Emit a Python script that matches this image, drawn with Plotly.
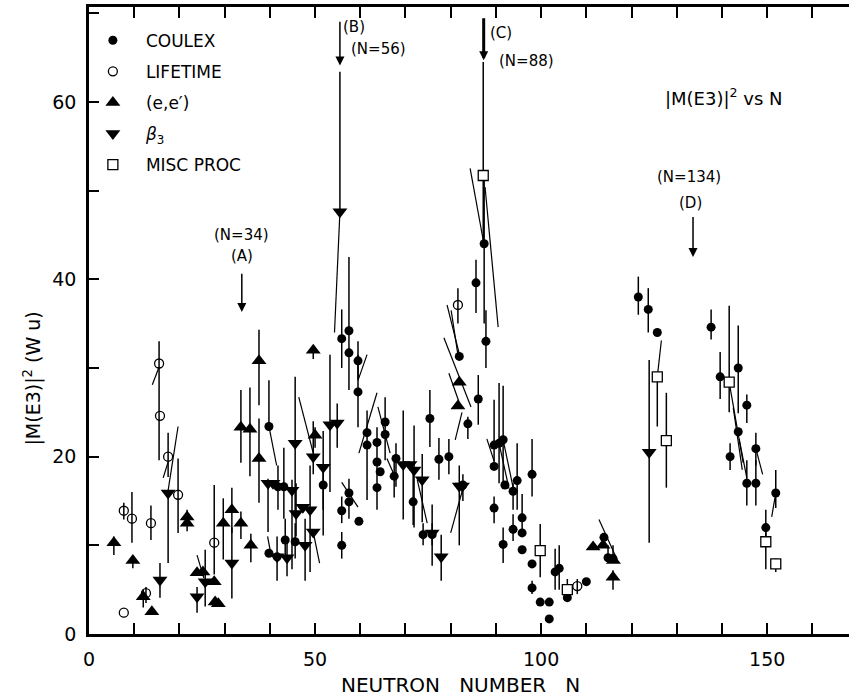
import plotly.graph_objects as go

# ---------------- data ----------------
# COULEX (filled circles)
coulex_n = [39.8, 41.8, 43.1, 39.8, 41.6, 43.4, 45.6, 51.8, 55.9, 57.5, 57.5, 59.5, 59.5, 55.9, 55.9,
            57.5, 57.5, 59.7, 61.5, 61.5, 63.7, 63.7, 63.7, 64.4, 65.5, 65.5, 67.9, 67.5, 71.7, 73.9,
            75.9, 75.4, 77.4, 79.6, 81.9, 83.8, 85.6, 87.8, 86.1, 87.4, 82.7, 89.6, 90.7, 91.6, 89.6,
            92.0, 94.7, 93.8, 89.6, 95.8, 98.0, 91.6, 93.8, 95.8, 95.8, 98.0, 98.0, 99.8, 101.8, 101.8,
            103.1, 104.0, 105.8, 110.0, 113.9, 114.8, 115.9, 121.5, 123.7, 125.7, 137.6, 139.6, 143.6,
            145.5, 143.6, 141.8, 147.5, 145.5, 147.5, 151.9, 149.7]
coulex_v = [23.4, 16.6, 16.6, 9.1, 8.7, 10.6, 10.4, 16.8, 33.3, 34.2, 31.7, 30.8, 27.3, 13.9, 10.0,
            15.9, 14.9, 12.7, 22.7, 21.3, 21.6, 19.4, 16.5, 18.3, 23.9, 22.5, 19.8, 17.8, 14.9, 11.2,
            11.2, 24.3, 19.7, 20.0, 31.3, 23.7, 39.6, 33.0, 26.5, 44.0, 16.8, 21.3, 21.5, 21.9, 18.9,
            16.8, 17.3, 16.1, 14.2, 13.1, 18.0, 10.1, 11.8, 11.4, 9.5, 7.9, 5.2, 3.6, 3.6, 1.7,
            7.0, 7.4, 4.1, 5.9, 10.9, 8.6, 8.5, 38.0, 36.6, 34.0, 34.6, 29.0, 30.0,
            25.8, 22.8, 20.0, 20.9, 17.0, 17.0, 15.9, 12.0]
coulex_hi = [28.6, 19.0, 21.0, 9.1, 11.0, 13.0, 12.5, 19.0, 36.6, 42.5, 31.7, 33.0, 31.5, 15.5, 11.5,
             17.5, 14.9, 12.7, 25.2, 21.3, 23.3, 19.4, 16.5, 18.3, 26.7, 22.5, 21.5, 19.6, 18.5, 12.5,
             12.5, 27.5, 22.1, 22.0, 31.3, 24.5, 42.2, 36.5, 29.2, 51.7, 18.0, 26.4, 28.3, 28.0, 18.9,
             16.8, 21.5, 17.0, 15.5, 15.8, 22.0, 12.0, 13.5, 11.4, 9.5, 7.9, 6.0, 3.6, 3.6, 1.7,
             9.6, 10.0, 4.1, 5.9, 10.9, 10.0, 10.0, 40.3, 39.0, 34.0, 36.6, 31.8, 34.8,
             27.0, 22.8, 21.5, 22.7, 19.6, 19.6, 18.5, 14.0]
coulex_lo = [23.4, 14.0, 13.0, 9.1, 6.0, 8.5, 8.5, 14.0, 30.0, 27.5, 31.7, 28.7, 23.3, 12.5, 8.5,
             15.9, 13.0, 12.7, 15.1, 21.3, 14.0, 19.4, 16.5, 18.3, 19.6, 22.5, 16.6, 15.4, 12.3, 10.0,
             10.0, 21.1, 17.4, 18.0, 31.3, 22.0, 36.2, 30.0, 23.6, 35.0, 15.0, 19.3, 17.0, 17.0, 18.9,
             16.8, 14.0, 14.0, 12.5, 11.0, 15.5, 8.0, 10.5, 11.4, 9.5, 7.9, 4.5, 3.6, 3.6, 1.7,
             5.0, 5.0, 4.1, 5.9, 10.9, 8.6, 8.5, 36.0, 34.0, 34.0, 33.2, 26.5, 24.9,
             23.8, 22.8, 18.5, 19.0, 14.5, 14.5, 14.2, 10.0]

# LIFETIME (open circles)
life_n = [7.7, 7.7, 9.5, 12.6, 13.7, 15.5, 15.7, 17.5, 19.7, 27.7, 81.6, 108.0]
life_v = [2.4, 13.9, 13.0, 4.6, 12.5, 30.5, 24.6, 20.0, 15.7, 10.3, 37.1, 5.4]
life_hi = [2.4, 14.8, 16.0, 5.3, 14.5, 33.0, 24.6, 22.7, 19.8, 16.8, 39.0, 6.2]
life_lo = [2.4, 12.9, 10.3, 3.5, 10.6, 19.6, 24.6, 17.7, 11.4, 6.7, 35.0, 4.5]

# (e,e') (up triangles)
ee_n = [5.5, 9.7, 12.0, 13.9, 21.7, 21.7, 23.9, 25.2, 27.7, 27.9, 28.6, 29.7, 31.6, 33.6, 35.8,
        33.6, 35.6, 37.6, 37.6, 49.6, 50.0, 81.9, 81.6, 111.5, 113.7, 116.0, 115.9]
ee_v = [10.3, 8.3, 4.2, 2.5, 13.2, 12.5, 6.9, 7.0, 5.9, 3.6, 3.4, 12.5, 14.0, 12.5, 10.0,
        23.3, 23.1, 30.8, 19.8, 32.0, 22.4, 28.4, 25.7, 9.8, 10.0, 8.3, 6.4]
ee_hi = [11.0, 8.3, 5.0, 2.5, 14.0, 12.5, 6.9, 7.0, 5.9, 3.6, 3.4, 15.3, 16.5, 13.8, 11.3,
         27.5, 27.8, 34.3, 24.3, 32.5, 23.3, 28.4, 25.7, 9.8, 10.0, 8.3, 7.2]
ee_lo = [8.9, 7.4, 3.0, 2.5, 13.2, 11.6, 6.9, 7.0, 5.9, 3.6, 3.4, 8.4, 11.4, 10.7, 8.1,
         19.3, 17.8, 25.8, 14.8, 31.0, 21.0, 28.4, 25.7, 9.8, 10.0, 8.3, 5.0]

# beta_3 (down triangles)
b3_n = [17.5, 15.7, 23.9, 25.7, 31.6, 39.6, 40.7, 44.9, 45.6, 45.8, 41.6, 43.8, 47.8, 47.3, 48.9,
        49.6, 49.6, 51.8, 53.3, 54.9, 55.5, 69.5, 71.0, 71.9, 73.7, 75.9, 77.9, 81.9, 82.6, 123.9]
b3_v = [15.9, 6.1, 4.2, 5.9, 8.0, 17.0, 17.0, 16.2, 21.5, 13.6, 8.7, 8.6, 10.0, 14.3, 14.0,
        20.0, 11.5, 18.8, 23.6, 23.8, 47.6, 19.1, 19.1, 18.5, 17.4, 11.4, 8.7, 16.7, 16.7, 20.5]
b3_hi = [15.9, 8.0, 5.3, 9.5, 12.0, 17.5, 17.0, 17.4, 29.0, 17.0, 8.7, 10.5, 13.0, 14.3, 19.0,
         24.0, 11.5, 22.9, 31.5, 26.0, 63.4, 25.2, 19.1, 23.5, 20.3, 14.6, 11.2, 19.0, 16.7, 30.9]
b3_lo = [8.0, 4.1, 2.4, 3.1, 4.0, 11.5, 17.0, 7.3, 13.6, 11.0, 8.7, 6.5, 6.0, 14.3, 7.0,
         18.0, 11.5, 11.1, 16.0, 21.0, 47.6, 12.9, 19.1, 12.0, 12.6, 7.7, 6.0, 10.0, 16.7, 10.3]

# MISC PROC (open squares)
misc_n = [87.2, 99.8, 105.8, 125.7, 127.7, 141.6, 149.7, 151.9]
misc_v = [51.7, 9.4, 5.0, 29.0, 21.8, 28.4, 10.4, 7.9]
misc_hi = [64.5, 12.4, 6.2, 29.0, 27.2, 37.0, 12.0, 8.5]
misc_lo = [44.0, 6.4, 3.8, 23.4, 16.5, 25.0, 7.3, 7.0]

# slanted error bars: (N0, V0) -> (N1, V1)
slant_n0 = [39.8, 39.5, 14.0, 16.4, 19.7, 23.9, 46.4, 49.6, 55.9, 59.5, 59.7, 63.9, 65.9, 72.6, 80.0,
            79.2, 78.5, 79.6, 82.5, 84.3, 87.6, 88.0, 90.7, 91.6, 112.8, 125.7, 141.6, 142.5, 143.8,
            147.5, 151.9, 54.3, 80.1]
slant_v0 = [23.4, 11.0, 28.1, 17.6, 23.4, 8.9, 26.7, 11.5, 17.1, 28.6, 20.4, 25.6, 19.8, 17.4, 11.4,
            37.1, 33.4, 29.4, 25.0, 52.5, 50.4, 22.0, 21.5, 21.9, 12.9, 29.0, 28.4, 25.5, 22.0,
            20.9, 15.9, 34.0, 36.5]
slant_n1 = [41.5, 40.2, 15.5, 17.5, 17.5, 25.4, 49.6, 51.0, 59.5, 61.5, 63.7, 66.6, 67.7, 74.8, 82.8,
            82.1, 84.5, 82.1, 81.0, 87.2, 90.5, 89.6, 92.9, 94.1, 116.8, 126.6, 144.7, 144.5, 145.5,
            149.0, 151.0, 55.5, 81.6]
slant_v1 = [19.0, 9.1, 30.1, 19.4, 16.2, 6.3, 20.4, 8.0, 14.3, 31.5, 27.2, 20.4, 17.7, 12.5, 16.6,
            31.2, 25.6, 25.8, 21.9, 44.4, 34.6, 19.5, 16.4, 15.8, 8.4, 33.1, 19.3, 18.5, 17.6,
            18.0, 13.2, 47.6, 31.5]

x_ticks = list(range(0, 170, 10))
x_labels = ["0", "", "", "", "", "50", "", "", "", "", "100", "", "", "", "", "150", ""]
y_ticks = list(range(0, 80, 10))
y_labels = ["0", "", "20", "", "40", "", "60", ""]

FONT = "DejaVu Sans"
BLACK = "black"


def err(v, hi, lo):
    return ([h - a for a, h in zip(v, hi)], [a - l for a, l in zip(v, lo)])


fig = go.Figure()

# slanted bars
sx, sy = [], []
for a, b, c, d in zip(slant_n0, slant_v0, slant_n1, slant_v1):
    sx += [a, c, None]
    sy += [b, d, None]
fig.add_trace(go.Scatter(x=sx, y=sy, mode="lines", line=dict(color=BLACK, width=1.2),
                         showlegend=False, hoverinfo="skip"))

series = [
    ("COULEX", coulex_n, coulex_v, coulex_hi, coulex_lo,
     dict(symbol="circle", size=9, color=BLACK)),
    ("LIFETIME", life_n, life_v, life_hi, life_lo,
     dict(symbol="circle-open", size=9, color=BLACK, line=dict(width=1.3, color=BLACK))),
    ("(e,e′)", ee_n, ee_v, ee_hi, ee_lo,
     dict(symbol="triangle-up", size=13, color=BLACK)),
    ("<i>β</i><sub>3</sub>", b3_n, b3_v, b3_hi, b3_lo,
     dict(symbol="triangle-down", size=13, color=BLACK)),
    ("MISC PROC", misc_n, misc_v, misc_hi, misc_lo,
     dict(symbol="square", size=10, color="white", line=dict(width=1.3, color=BLACK))),
]
for i, (name, n, v, hi, lo, mk) in enumerate(series):
    plus, minus = err(v, hi, lo)
    fig.add_trace(go.Scatter(
        x=n, y=v, mode="markers", name=name, marker=mk, legendgroup=str(i),
        error_y=dict(type="data", symmetric=False, array=plus, arrayminus=minus,
                     width=0, thickness=1.5, color=BLACK),
    ))

ann = []
# arrows (A)-(D)
arrows = [(33.8, 40.8, 36.3, 1.5, 1.2), (55.5, 69.2, 64.1, 1.5, 1.2),
          (87.3, 69.6, 64.7, 3, 0.6), (133.6, 47.2, 42.5, 1.5, 1.2)]
for x0, y0, y1, w, s in arrows:
    ann.append(dict(x=x0, y=y1, ax=x0, ay=y0, xref="x", yref="y", axref="x", ayref="y",
                    text="", showarrow=True, arrowhead=2, arrowsize=s, arrowwidth=w,
                    arrowcolor=BLACK))
labels = [
    ("(N=34)", 33.8, 45.0, "center"), ("(A)", 33.8, 42.6, "center"),
    ("(B)", 55.8, 68.4, "left"), ("(N=56)", 57.5, 66.0, "left"),
    ("(C)", 88.2, 67.8, "left"), ("(N=88)", 90.2, 64.6, "left"),
    ("(N=134)", 132.7, 51.5, "center"), ("(D)", 133.0, 48.6, "center"),
]
for t, x, y, xa in labels:
    ann.append(dict(x=x, y=y, xref="x", yref="y", text=t, showarrow=False, xanchor=xa,
                    font=dict(family=FONT, size=15, color=BLACK)))
ann.append(dict(x=140.5, y=60.6, xref="x", yref="y", text="|M(E3)|<sup>2</sup> vs N",
                showarrow=False, xanchor="center", font=dict(family=FONT, size=18, color=BLACK)))
ann.append(dict(x=-0.074, y=0.407, xref="paper", yref="paper", text="|M(E3)|<sup>2</sup> (W u)",
                textangle=-90, showarrow=False, xanchor="center", yanchor="middle",
                font=dict(family=FONT, size=19, color=BLACK)))
ann.append(dict(x=0.489, y=-0.081, xref="paper", yref="paper",
                text="NEUTRON\u00a0\u00a0\u00a0NUMBER\u00a0\u00a0\u00a0N",
                showarrow=False, xanchor="center", yanchor="middle",
                font=dict(family=FONT, size=20, color=BLACK)))

fig.update_layout(
    width=849, height=698,
    margin=dict(l=89, r=0, t=7, b=64, autoexpand=False),
    paper_bgcolor="white", plot_bgcolor="white",
    showlegend=True,
    legend=dict(x=-0.012, y=0.975, xanchor="left", yanchor="top", bgcolor="rgba(0,0,0,0)",
                font=dict(family=FONT, size=17, color=BLACK), itemwidth=56,
                tracegroupgap=6),
    annotations=ann,
    font=dict(family=FONT, color=BLACK),
)
fig.update_xaxes(range=[0, 168.1], tickvals=x_ticks, ticktext=x_labels, ticks="inside",
                 ticklen=11, tickwidth=1.5, tickcolor=BLACK, showline=True, linewidth=2.5,
                 linecolor=BLACK, mirror="ticks", showgrid=False, zeroline=False,
                 tickfont=dict(family=FONT, size=19, color=BLACK), ticklabelstandoff=6,
                 automargin=False)
fig.update_yaxes(range=[0, 70.7], tickvals=y_ticks, ticktext=y_labels, ticks="inside",
                 ticklen=10, tickwidth=1.5, tickcolor=BLACK, showline=True, linewidth=2.5,
                 linecolor=BLACK, mirror=False, showgrid=False, zeroline=False,
                 tickfont=dict(family=FONT, size=19, color=BLACK), ticklabelstandoff=6,
                 automargin=False)

fig.write_html("out.html", config={"displayModeBar": False},
               post_script="document.body.style.margin='0';document.body.style.overflow='hidden';")
